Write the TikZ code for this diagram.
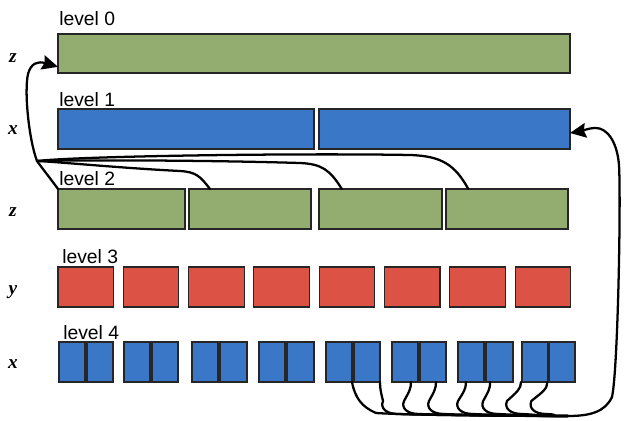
\documentclass[tikz,border=0pt]{standalone}
\usepackage{fontspec}
\setmainfont{Liberation Sans}
\newfontfamily\serifit{Liberation Serif}
\usetikzlibrary{fit,arrows.meta}
\definecolor{gr}{HTML}{93AC70}
\definecolor{bl}{HTML}{3A78C7}
\definecolor{rd}{HTML}{DC5346}
\tikzset{
  box/.style={draw=black!85, line width=0.8pt, inner sep=0pt, outer sep=0pt},
  gbox/.style={box, fill=gr},
  bbox/.style={box, fill=bl},
  rbox/.style={box, fill=rd},
  lvl/.style={anchor=base west, inner sep=0pt, font=\fontsize{14.5}{16}\selectfont},
  ax/.style={inner sep=0pt, font=\serifit\itshape\bfseries\fontsize{14.5}{16}\selectfont},
  conn/.style={line width=1.7pt, line cap=round, line join=round},
  arr/.style={conn, -{Stealth[length=12pt, width=11pt, inset=1.5pt]}}
}
\begin{document}
\begin{tikzpicture}[x=0.75pt, y=-0.75pt]
\useasboundingbox (0,0) rectangle (625,421);

% level labels
\node[lvl] (t0) at (59,26) {level 0};
\node[lvl] (t1) at (59,106) {level 1};
\node[lvl] (t2) at (59,185) {level 2};
\node[lvl] (t3) at (62,263) {level 3};
\node[lvl] (t4) at (63,339) {level 4};

% axis labels
\node[ax] (a0) at (13,58) {z};
\node[ax] (a1) at (13,130) {x};
\node[ax] (a2) at (13,212) {z};
\node[ax] (a3) at (13,292) {y};
\node[ax] (a4) at (13,364) {x};

% level 0
\node[gbox, fit={(58,34) (570,73)}] (L0) {};
% level 1
\node[bbox, fit={(58,109) (314,149)}] (L1a) {};
\node[bbox, fit={(319,109) (570,149)}] (L1b) {};
% level 2
\node[gbox, fit={(58,189) (185,229)}] (L2a) {};
\node[gbox, fit={(189,189) (311,229)}] (L2b) {};
\node[gbox, fit={(319,189) (442,229)}] (L2c) {};
\node[gbox, fit={(446,189) (568,229)}] (L2d) {};
% level 3
\foreach \i in {0,...,7}
  \node[rbox, fit={({58+65.3*\i},267) ({113.5+65.3*\i},307)}] (r\i) {};
% level 4
\foreach \i/\a/\b in {1/59/85, 2/87/113, 3/124/150, 4/152/178, 5/192/218, 6/220/247,
  7/259/285, 8/287/314, 9/326/352, 10/354/380, 11/392/418, 12/420/446,
  13/458/484, 14/486/513, 15/522/548, 16/549/575}
  \node[bbox, fit={(\a,342) (\b,382)}] (b\i) {};

% top connectors (level 2 -> level 0)
\coordinate (J) at (37,161);
\draw[arr] (L2a.north west) .. controls (50,178) and (42,168) .. (J)
   .. controls (29,140) and (24,92) .. (28,74)
   .. controls (31,63) and (38,61) .. ([yshift=-10pt]L0.west);
\draw[conn] ([xshift=-30pt]L2b.north) .. controls (200,176) and (196,172) .. (180,171)
   .. controls (120,168) and (60,162) .. (J);
\draw[conn] ([xshift=-29pt]L2c.north) .. controls (330,170) and (322,164) .. (300,163)
   .. controls (200,160) and (80,160) .. (J);
\draw[conn] ([xshift=-29pt]L2d.north) .. controls (455,165) and (442,156) .. (410,155)
   .. controls (300,153) and (80,156) .. (J);

% bottom connectors (level 4 -> level 1)
\coordinate (M) at (568,416);
\draw[conn] (b9.south east) .. controls +(3,16) and +(-14,-6) .. (376,413)
   .. controls +(30,2) and +(-60,0) .. (M);
\foreach \b/\dx/\L in {10/9.75/3, 11/4.5/-7, 12/2.25/-7, 13/-3.75/-8, 14/-7/-7, 15/-10.5/-14, 16/-11/-16}
  \draw[conn] ([xshift=\dx pt]b\b.south) .. controls +(0,7) and +({-\L*0.7},-9) .. ++(\L,19)
     .. controls +(-3,7) and +(-12,0) .. ++(15,13)
     .. controls +(20,1) and +(-30,0) .. (M);
\draw[arr] (M) .. controls (590,416) and (605,412) .. (612,397)
   .. controls (618,370) and (621,200) .. (619,165)
   .. controls (617,140) and (606,128) .. (596,128)
   .. controls (588,128) and (582,131) .. ([yshift=-3pt]L1b.east);
\end{tikzpicture}
\end{document}
